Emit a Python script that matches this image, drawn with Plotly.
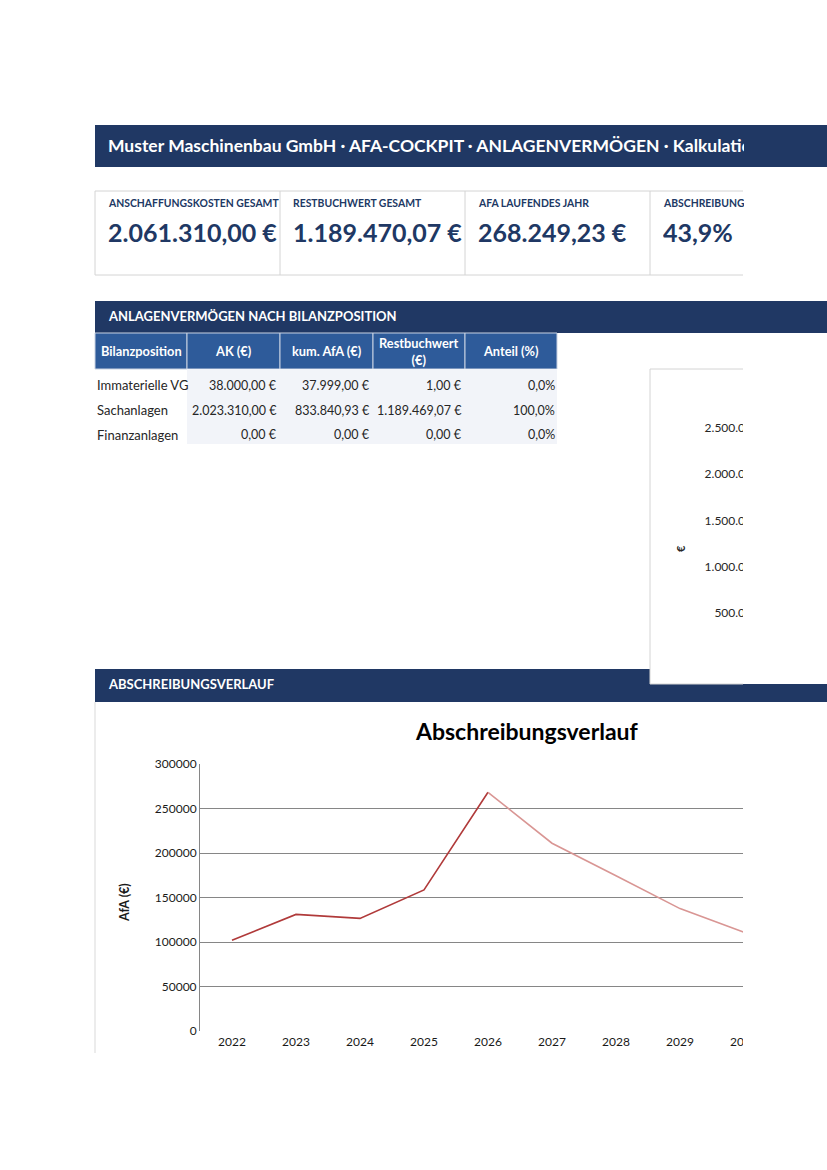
import plotly.graph_objects as go

W, H = 827, 1170
NAVY = "#203864"
BLUE = "#2E5B9A"
FONT = "Lato"

# ---------------- data ----------------
title_text = "Muster Maschinenbau GmbH · AFA-COCKPIT · ANLAGENVERMÖGEN · Kalkulationsbasis"
kpi_labels = ["ANSCHAFFUNGSKOSTEN GESAMT", "RESTBUCHWERT GESAMT", "AFA LAUFENDES JAHR", "ABSCHREIBUNGSGRAD"]
kpi_values = [2061310.00, 1189470.07, 268249.23, 43.9]
kpi_units = [" €", " €", " €", "%"]
kpi_decimals = [2, 2, 2, 1]

section1 = "ANLAGENVERMÖGEN NACH BILANZPOSITION"
section2 = "ABSCHREIBUNGSVERLAUF"

table_headers = ["Bilanzposition", "AK (€)", "kum. AfA (€)", "Restbuchwert<br>(€)", "Anteil (%)"]
positions = ["Immaterielle VG", "Sachanlagen", "Finanzanlagen"]
ak = [38000.00, 2023310.00, 0.00]
kum_afa = [37999.00, 833840.93, 0.00]
restbuchwert = [1.00, 1189469.07, 0.00]
anteil = [0.0, 100.0, 0.0]

years = ["2022", "2023", "2024", "2025", "2026", "2027", "2028", "2029", "2030"]
afa = [102000, 131000, 126500, 158500, 268249.23, 211000, 174500, 137500, 111000]
current_year = "2026"

chart_title = "Abschreibungsverlauf"
y_title = "AfA (€)"
panel_y_title = "€"


# ---------------- helpers ----------------
def X(p):
    return p / W


def Y(p):
    return 1 - p / H


def de(v, d=2):
    s = f"{v:,.{d}f}"
    return s.replace(",", "X").replace(".", ",").replace("X", ".")


shapes = []
annotations = []


def rect(x0, y0, x1, y1, fill, line=None, lw=0, layer="below"):
    shapes.append(dict(type="rect", xref="paper", yref="paper",
                       x0=X(x0), x1=X(x1), y0=Y(y1), y1=Y(y0),
                       fillcolor=fill, layer=layer,
                       line=dict(color=line or fill, width=lw)))


def hline(x0, x1, y, color, w=1, layer="below"):
    shapes.append(dict(type="line", xref="paper", yref="paper",
                       x0=X(x0), x1=X(x1), y0=Y(y), y1=Y(y),
                       line=dict(color=color, width=w), layer=layer))


def vline(x, y0, y1, color, w=1, layer="below"):
    shapes.append(dict(type="line", xref="paper", yref="paper",
                       x0=X(x), x1=X(x), y0=Y(y0), y1=Y(y1),
                       line=dict(color=color, width=w), layer=layer))


def text(x, y, s, size, color, bold=False, xanchor="left", width=None, angle=0, align="left"):
    a = dict(xref="paper", yref="paper", x=X(x), y=Y(y), text=(f"<b>{s}</b>" if bold else s),
             showarrow=False, xanchor=xanchor, yanchor="middle", textangle=angle,
             font=dict(family=FONT, size=size, color=color), borderpad=0, align=align)
    if width:
        a["width"] = width
    annotations.append(a)


CLIP = 743  # right edge of the printed area

# ---------------- header ----------------
rect(95, 125, 827, 167, NAVY)
text(107, 145, title_text, 17.5, "white", bold=True, width=CLIP - 107)

# ---------------- KPI cards ----------------
card_x = [95, 280, 465, 650]
hline(95, CLIP, 191, "#D4D4D4")
hline(95, CLIP, 275, "#D4D4D4")
for i, cx in enumerate(card_x):
    vline(cx, 191, 275, "#D4D4D4")
    w = (card_x[i + 1] if i + 1 < len(card_x) else CLIP) - (cx + 12)
    text(cx + 12, 203, kpi_labels[i], 10.4, NAVY, bold=True, width=w)
    text(cx + 12, 232, de(kpi_values[i], kpi_decimals[i]) + kpi_units[i], 25, NAVY, bold=True, width=w)

# ---------------- section 1 + table ----------------
rect(95, 301, 827, 333, NAVY)
text(107, 316, section1, 13, "white", bold=True)

col_edges = [95, 187, 280, 373, 465, 557]
for i, h in enumerate(table_headers):
    rect(col_edges[i], 333, col_edges[i + 1], 369, BLUE, line="#C8D2E2", lw=1)
    text((col_edges[i] + col_edges[i + 1]) / 2, 351, h, 12.8, "white", bold=True, xanchor="center", align="center")

rect(187, 369, 557, 444, "#F2F4F9")
row_y0 = 385.5
row_dy = 24.5
columns = [ak, kum_afa, restbuchwert]
for r, name in enumerate(positions):
    y = row_y0 + r * row_dy
    text(96, y, name, 13, "#262626")
    for c, col in enumerate(columns):
        text(col_edges[c + 2] - 2, y, de(col[r]) + " €", 12.5, "#262626", xanchor="right")
    text(col_edges[5] - 1, y, de(anteil[r], 1) + "%", 12.5, "#262626", xanchor="right")

# ---------------- section 2 bar ----------------
rect(95, 669, 827, 702, NAVY)
text(107, 684, section2, 13, "white", bold=True)

# right chart panel (mostly outside the printed area)
rect(650, 369, 827, 684, "white")
hline(650, CLIP, 369, "#D4D4D4")
hline(650, CLIP, 684, "#D4D4D4")
vline(650, 369, 684, "#D4D4D4")
text(680, 549, panel_y_title, 11, "#262626", bold=True, xanchor="center", angle=-90)

# bottom chart frame
vline(95, 702, 1053, "#D9D9D9")
text(527, 731, chart_title, 23, "black", bold=True, xanchor="center")
text(124, 903, y_title, 12.5, "#1A1A1A", bold=True, xanchor="center", angle=-90)

# covers for the clipped print area
rect(CLIP, 352, 827, 669, "white", layer="above")
rect(CLIP, 702, 827, 1070, "white", layer="above")

# ---------------- traces ----------------
idx = years.index(current_year)
fig = go.Figure()
fig.add_trace(go.Scatter(x=years[:idx + 1], y=afa[:idx + 1], mode="lines",
                         line=dict(color="#B03A3A", width=1.6), showlegend=False, hoverinfo="skip"))
fig.add_trace(go.Scatter(x=years[idx:], y=afa[idx:], mode="lines",
                         line=dict(color="#D99694", width=1.6), showlegend=False, hoverinfo="skip"))
fig.add_trace(go.Bar(x=positions, y=ak, xaxis="x2", yaxis="y2", marker_color=BLUE,
                     showlegend=False, hoverinfo="skip"))

fig.update_layout(
    width=W, height=H, autosize=False,
    margin=dict(l=0, r=0, t=0, b=0, pad=0, autoexpand=False),
    paper_bgcolor="white", plot_bgcolor="rgba(0,0,0,0)",
    separators=",.",
    showlegend=False,
    font=dict(family=FONT, color="#262626"),
    shapes=shapes, annotations=annotations,
    xaxis=dict(domain=[X(200), X(776)], type="category", range=[-0.5, len(years) - 0.5],
               showgrid=False, showline=False, ticks="", zeroline=False, automargin=False,
               ticklabelstandoff=2,
               tickfont=dict(family=FONT, size=12, color="#1A1A1A"), anchor="y"),
    yaxis=dict(domain=[Y(1031), Y(764)], range=[0, 300000], dtick=50000, tickformat="d",
               showgrid=True, gridcolor="#868686", gridwidth=1, zeroline=False, automargin=False,
               showline=True, linecolor="#868686", linewidth=1, ticks="",
               tickfont=dict(family=FONT, size=12, color="#1A1A1A"), anchor="x"),
    xaxis2=dict(domain=[X(760), X(820)], anchor="y2", visible=False, type="category", automargin=False),
    yaxis2=dict(domain=[Y(659.25), Y(404.9)], anchor="x2", range=[0, 2750000], dtick=500000,
                tickformat=",d", showgrid=False, zeroline=False, showline=False, ticks="", automargin=False,
                tickfont=dict(family=FONT, size=12, color="#262626")),
)

fig.write_html("out.html", config={"displayModeBar": False},
               post_script="document.body.style.margin='0';document.body.style.overflow='hidden';")
